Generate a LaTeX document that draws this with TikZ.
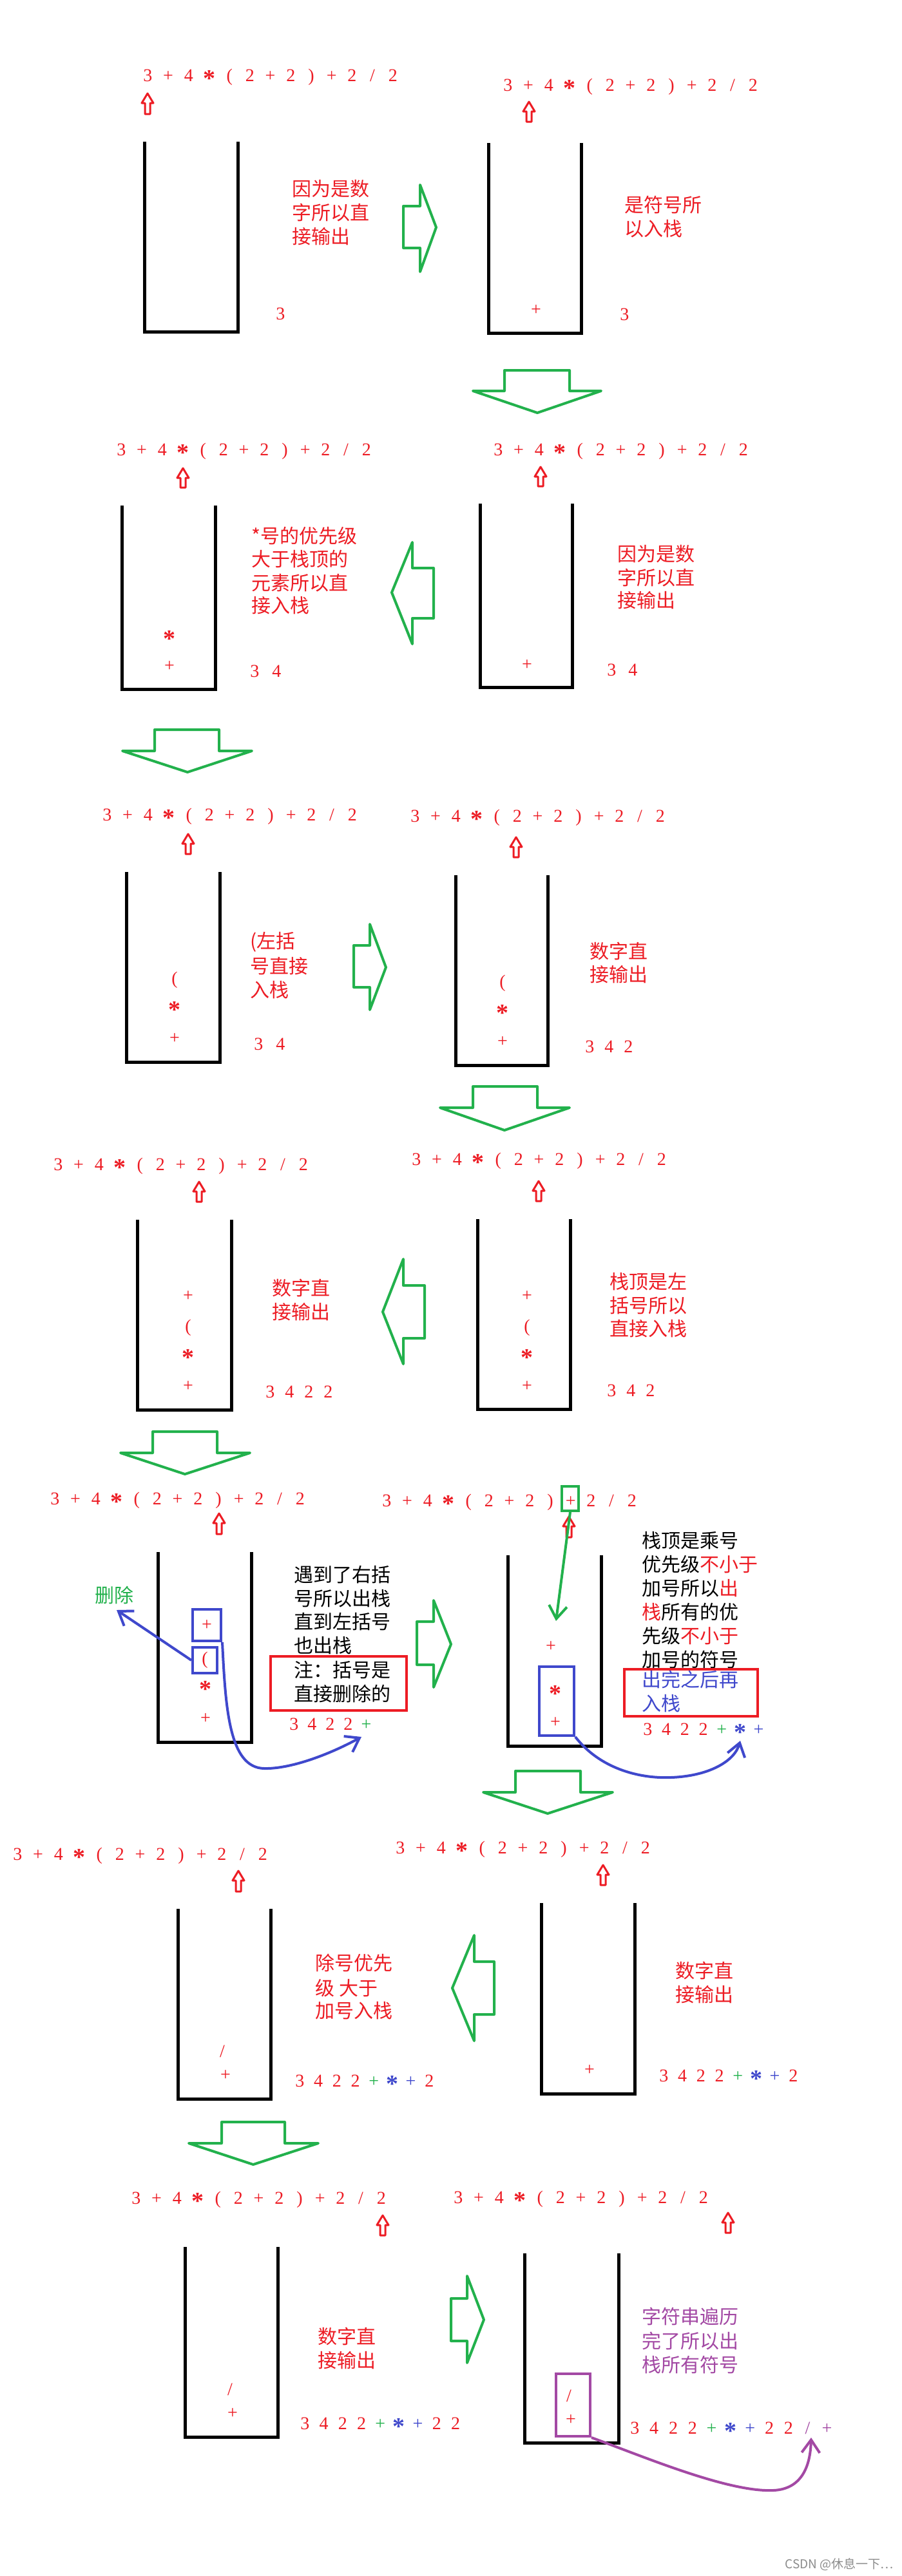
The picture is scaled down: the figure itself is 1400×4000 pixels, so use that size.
\documentclass[tikz,border=0pt]{standalone}
\usepackage{fontspec}
\setmainfont{Liberation Serif}
\newfontfamily\cjk{Noto Sans CJK SC}
\usetikzlibrary{arrows.meta}
\definecolor{pred}{HTML}{ED1C24}
\definecolor{pgreen}{HTML}{22B14C}
\definecolor{pblue}{HTML}{3F48CC}
\definecolor{ppurple}{HTML}{A349A4}
\newlength\tw
\setlength\tw{14.5pt}
\newcommand\E[1]{\makebox[15.85pt]{#1}}
\newcommand\AST{\raisebox{-4.4pt}{\fontsize{19}{19}\selectfont\bfseries *}}
\newcommand\exprtext{\E{3}\E{+}\E{4}\E{\AST}\E{(}\E{2}\E{+}\E{2}\E{)}\E{+}\E{2}\E{/}\E{2}}
\newcommand\T[2]{\makebox[\tw]{\textcolor{#1}{#2}}}
\newcommand\redup[3]{\draw[redarrow] (#1,#2) -- (#1+9,#2+15) -- (#1+4,#2+15) -- (#1+4,#3) -- (#1-4,#3) -- (#1-4,#2+15) -- (#1-9,#2+15) -- cycle;}
\newcommand\gR[8]{\draw[blockarrow] (#1,#4) -- (#2,#4) -- (#2,#6) -- (#3,#8) -- (#2,#7) -- (#2,#5) -- (#1,#5) -- cycle;}
\newcommand\gD[8]{\draw[blockarrow] (#1,#3) -- (#2,#3) -- (#2,#4) -- (#6,#4) -- (#7,#8) -- (#5,#4) -- (#1,#4) -- cycle;}
\newcommand\stk[4]{\draw[stackwall] (#1,#3) -- (#1,#4) -- (#2,#4) -- (#2,#3);}
\tikzset{
  expr/.style={anchor=base west, inner sep=0pt, text=pred, font=\fontsize{14}{16}\selectfont},
  item/.style={inner sep=0pt, text=pred, font=\fontsize{14}{16}\selectfont},
  astitem/.style={item, yshift=-2.6pt},
  outs/.style={anchor=base west, inner sep=0pt, font=\fontsize{14}{16}\selectfont},
  note/.style={anchor=west, inner sep=0pt, text=pred, font=\cjk\fontsize{15}{18}\selectfont},
  stackwall/.style={draw=black, line width=2.5pt},
  redarrow/.style={draw=pred, fill=white, line width=1.5pt, line join=round},
  blockarrow/.style={draw=pgreen, line width=2pt, line join=round},
  bbox/.style={draw=pblue, line width=2pt, inner sep=0pt},
  rbox/.style={draw=pred, line width=2pt, inner sep=0pt},
  barb/.style={-{Straight Barb[length=10pt,width=14pt]}, line width=2pt},
}
\begin{document}
\begin{tikzpicture}[x=0.5pt,y=-0.5pt]
\path[use as bounding box, fill=white] (0,0) rectangle (1400,4000);

% ---------- Panel 1
\node[expr] (e1) at (213.15,126) {\exprtext};
\redup{229}{145}{177}
\stk{224}{369}{220}{515}
\node[note] (t1a) at (453,293) {因为是数};
\node[note] (t1b) at (453,330) {字所以直};
\node[note] (t1c) at (453,367) {接输出};
\node[outs] (o1) at (420.5,496) {\T{pred}{3}};
\gR{626}{652}{677}{320}{385}{287}{422}{353}

% ---------- Panel 2
\node[expr] (e2) at (772.15,141) {\exprtext};
\redup{821}{158}{189}
\stk{758}{902}{222}{517}
\node[item] (s2a) at (832,482) {+};
\node[note] (t2a) at (969,318) {是符号所};
\node[note] (t2b) at (969,355) {以入栈};
\node[outs] (o2) at (954.5,497) {\T{pred}{3}};
\gD{783}{884}{575}{607}{734}{933}{834}{641}

% ---------- Panel 3
\node[expr] (e3) at (172.15,707) {\exprtext};
\redup{284}{727}{757}
\stk{189}{334}{785}{1070}
\node[astitem] (s3a) at (263,987) {\AST};
\node[item] (s3b) at (263,1035) {+};
\node[note] (t3a) at (390,832) {*号的优先级};
\node[note] (t3b) at (390,868) {大于栈顶的};
\node[note] (t3c) at (390,905) {元素所以直};
\node[note] (t3d) at (390,940) {接入栈};
\node[outs] (o3) at (378,1051) {\setlength\tw{17pt}\T{pred}{3}\T{pred}{4}};
\gR{673}{640}{608}{882}{960}{842}{1000}{920}

% ---------- Panel 4
\node[expr] (e4) at (757.15,707) {\exprtext};
\redup{839}{725}{755}
\stk{745}{888}{782}{1067}
\node[item] (s4a) at (818,1033) {+};
\node[note] (t4a) at (958,860) {因为是数};
\node[note] (t4b) at (958,897) {字所以直};
\node[note] (t4c) at (958,932) {接输出};
\node[outs] (o4) at (932.5,1049) {\setlength\tw{16.5pt}\T{pred}{3}\T{pred}{4}};
\gD{240}{340}{1133}{1166}{190}{391}{291}{1199}

% ---------- Panel 5
\node[expr] (e5) at (150.15,1274) {\exprtext};
\redup{292}{1295}{1326}
\stk{196}{341}{1354}{1649}
\node[item] (s5a) at (271,1522) {(};
\node[astitem] (s5b) at (271,1563) {\AST};
\node[item] (s5c) at (271,1613) {+};
\node[note] (t5a) at (388,1463) {(左括};
\node[note] (t5b) at (388,1500) {号直接};
\node[note] (t5c) at (388,1537) {入栈};
\node[outs] (o5) at (384,1630) {\setlength\tw{17pt}\T{pred}{3}\T{pred}{4}};
\gR{549}{574}{599}{1468}{1533}{1435}{1568}{1502}

% ---------- Panel 6
\node[expr] (e6) at (628.15,1276) {\exprtext};
\redup{801}{1300}{1331}
\stk{707}{850}{1359}{1654}
\node[item] (s6a) at (780,1527) {(};
\node[astitem] (s6b) at (780,1568) {\AST};
\node[item] (s6c) at (780,1618) {+};
\node[note] (t6a) at (915,1477) {数字直};
\node[note] (t6b) at (915,1513) {接输出};
\node[outs] (o6) at (900,1634) {\setlength\tw{15pt}\T{pred}{3}\T{pred}{4}\T{pred}{2}};
\gD{734}{834}{1687}{1720}{683}{884}{783}{1755}

% ---------- Panel 7
\node[expr] (e7) at (74.15,1817) {\exprtext};
\redup{309}{1835}{1866}
\stk{213}{359}{1894}{2189}
\node[item] (s7a) at (292,2013) {+};
\node[item] (s7b) at (292,2062) {(};
\node[astitem] (s7c) at (292,2103) {\AST};
\node[item] (s7d) at (292,2153) {+};
\node[note] (t7a) at (422,2000) {数字直};
\node[note] (t7b) at (422,2037) {接输出};
\node[outs] (o7) at (404,2170) {\setlength\tw{15pt}\T{pred}{3}\T{pred}{4}\T{pred}{2}\T{pred}{2}};
\gR{659}{626}{594}{1996}{2078}{1955}{2118}{2037}

% ---------- Panel 8
\node[expr] (e8) at (630.15,1809) {\exprtext};
\redup{836}{1834}{1865}
\stk{741}{885}{1893}{2188}
\node[item] (s8a) at (818,2013) {+};
\node[item] (s8b) at (818,2062) {(};
\node[astitem] (s8c) at (818,2103) {\AST};
\node[item] (s8d) at (818,2153) {+};
\node[note] (t8a) at (946,1990) {栈顶是左};
\node[note] (t8b) at (946,2027) {括号所以};
\node[note] (t8c) at (946,2063) {直接入栈};
\node[outs] (o8) at (934,2168) {\setlength\tw{15pt}\T{pred}{3}\T{pred}{4}\T{pred}{2}};
\gD{237}{337}{2223}{2256}{187}{388}{287}{2289}

% ---------- Panel 9
\node[expr] (e9) at (69.15,2336) {\exprtext};
\redup{340}{2350}{2382}
\stk{245}{390}{2410}{2705}
\node[bbox, minimum width=22pt, minimum height=24.5pt, text=pred, font=\fontsize{14}{16}\selectfont] (b1) at (321,2523.5) {+};
\node[bbox, minimum width=19pt, minimum height=20pt, text=pred, font=\fontsize{14}{16}\selectfont] (b2) at (318,2578) {(};
\node[astitem] (s9c) at (319,2618) {\AST};
\node[item] (s9d) at (319,2669) {+};
\node[note, text=pgreen, anchor=center] (del) at (177,2477) {删除};
\coordinate (delpt) at (181,2500);
\draw[barb, pblue] (b2.west) -- (delpt);
\node[note, text=black] (t9a) at (456,2445) {遇到了右括};
\node[note, text=black] (t9b) at (456,2482) {号所以出栈};
\node[note, text=black] (t9c) at (456,2518) {直到左括号};
\node[note, text=black] (t9d) at (456,2555) {也出栈};
\node[note, text=black] (t9e) at (456,2593) {注：括号是};
\node[note, text=black] (t9f) at (456,2630) {直接删除的};
\node[rbox, minimum width=105.5pt, minimum height=42pt] (rb9) at (525.5,2614) {};
\node[outs] (o9) at (442,2686) {\setlength\tw{14pt}\T{pred}{3}\T{pred}{4}\T{pred}{2}\T{pred}{2}\T{pgreen}{+}};
\coordinate (c9end) at (561,2697);
\draw[barb, pblue] (b1.south east) .. controls (350,2650) and (355,2745) .. (410,2746) .. controls (450,2747) and (510,2725) .. (c9end);
\gR{647}{673}{700}{2518}{2585}{2485}{2620}{2553}

% ---------- Panel 10
\node[expr] (e10) at (584.15,2339) {\exprtext};
\node[draw=pgreen, line width=2pt, minimum width=13pt, minimum height=19pt, inner sep=0pt] (gb) at (885,2327) {};
\redup{883}{2355}{2387}
\stk{788}{933}{2415}{2711}
\coordinate (g10end) at (863,2517);
\draw[barb, pgreen] (gb.south) -- (g10end);
\node[item] (s10a) at (855,2557) {+};
\node[bbox, minimum width=27pt, minimum height=53.5pt] (bb) at (864,2641.5) {};
\node[astitem] (s10b) at (862,2625) {\AST};
\node[item] (s10c) at (862,2675) {+};
\node[note, text=black] (t10a) at (996,2392) {栈顶是乘号};
\node[note, text=black] (t10b) at (996,2429) {优先级\textcolor{pred}{不小于}};
\node[note, text=black] (t10c) at (996,2466) {加号所以\textcolor{pred}{出}};
\node[note, text=black] (t10d) at (996,2503) {\textcolor{pred}{栈}所有的优};
\node[note, text=black] (t10e) at (996,2540) {先级\textcolor{pred}{不小于}};
\node[note, text=black] (t10f) at (996,2577) {加号的符号};
\node[note, text=pblue] (t10g) at (996,2608) {出完之后再};
\node[note, text=pblue] (t10h) at (996,2645) {入栈};
\node[rbox, minimum width=103.5pt, minimum height=36.5pt] (rb10) at (1072.5,2628.5) {};
\node[outs] (o10) at (990.65,2694) {\setlength\tw{14.35pt}\T{pred}{3}\T{pred}{4}\T{pred}{2}\T{pred}{2}\T{pgreen}{+}\T{pblue}{\AST}\T{pblue}{+}};
\coordinate (c10end) at (1149,2703);
\draw[barb, pblue] (bb.south east) .. controls (930,2745) and (990,2762) .. (1041,2760) .. controls (1100,2758) and (1140,2735) .. (c10end);
\gD{800}{901}{2750}{2783}{750}{951}{850}{2816}

% ---------- Panel 11
\node[expr] (e11) at (11.15,2888) {\exprtext};
\redup{370}{2905}{2937}
\stk{276}{420}{2964}{3259}
\node[item] (s11a) at (345,3185) {/};
\node[item] (s11b) at (350,3223) {+};
\node[note] (t11a) at (489,3048) {除号优先};
\node[note] (t11b) at (489,3087) {级 大于};
\node[note] (t11c) at (489,3122) {加号入栈};
\node[outs] (o11) at (450.65,3240) {\setlength\tw{14.35pt}\T{pred}{3}\T{pred}{4}\T{pred}{2}\T{pred}{2}\T{pgreen}{+}\T{pblue}{\AST}\T{pblue}{+}\T{pred}{2}};
\gR{767}{736}{702}{3046}{3128}{3005}{3169}{3087}

% ---------- Panel 12
\node[expr] (e12) at (605.15,2878) {\exprtext};
\redup{936}{2896}{2927}
\stk{840}{985}{2955}{3251}
\node[item] (s12a) at (915,3215) {+};
\node[note] (t12a) at (1048,3060) {数字直};
\node[note] (t12b) at (1048,3097) {接输出};
\node[outs] (o12) at (1015.65,3232) {\setlength\tw{14.35pt}\T{pred}{3}\T{pred}{4}\T{pred}{2}\T{pred}{2}\T{pgreen}{+}\T{pblue}{\AST}\T{pblue}{+}\T{pred}{2}};
\gD{344}{442}{3295}{3328}{293}{494}{393}{3361}

% ---------- Panel 13
\node[expr] (e13) at (195.15,3422) {\exprtext};
\redup{594}{3440}{3471}
\stk{287}{431}{3489}{3784}
\node[item] (s13a) at (357,3710) {/};
\node[item] (s13b) at (361,3748) {+};
\node[note] (t13a) at (493,3628) {数字直};
\node[note] (t13b) at (493,3665) {接输出};
\node[outs] (o13) at (458.4,3772) {\setlength\tw{14.6pt}\T{pred}{3}\T{pred}{4}\T{pred}{2}\T{pred}{2}\T{pgreen}{+}\T{pblue}{\AST}\T{pblue}{+}\T{pred}{2}\T{pred}{2}};
\gR{700}{725}{751}{3569}{3635}{3534}{3669}{3602}

% ---------- Panel 14
\node[expr] (e14) at (695.15,3421) {\exprtext};
\redup{1130}{3436}{3467}
\stk{814}{960}{3499}{3793}
\node[draw=ppurple, line width=2pt, minimum width=26.5pt, minimum height=48.5pt, inner sep=0pt] (pb) at (889.5,3734.5) {};
\node[item] (s14a) at (883,3720) {/};
\node[item] (s14b) at (886,3758) {+};
\node[note, text=ppurple] (t14a) at (996,3597) {字符串遍历};
\node[note, text=ppurple] (t14b) at (996,3635) {完了所以出};
\node[note, text=ppurple] (t14c) at (996,3672) {栈所有符号};
\node[outs] (o14) at (970.1,3779) {\setlength\tw{14.9pt}\T{pred}{3}\T{pred}{4}\T{pred}{2}\T{pred}{2}\T{pgreen}{+}\T{pblue}{\AST}\T{pblue}{+}\T{pred}{2}\T{pred}{2}\T{ppurple}{/}\T{ppurple}{+}};
\coordinate (c14end) at (1259,3785);
\draw[barb, ppurple] (pb.south east) .. controls (1000,3815) and (1130,3870) .. (1200,3867) .. controls (1250,3865) and (1258,3820) .. (c14end);

% ---------- watermark
\node[anchor=east, inner sep=0pt, text=black!45, font=\cjk\fontsize{9.5}{11}\selectfont] (wm) at (1387,3982) {CSDN @休息一下…};
\end{tikzpicture}
\end{document}
